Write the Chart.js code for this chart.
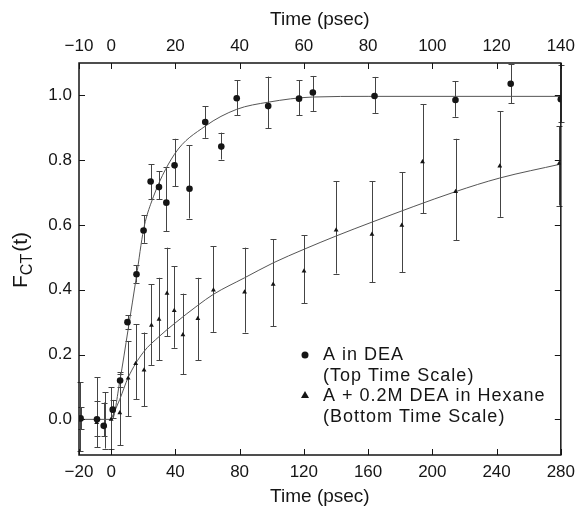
<!DOCTYPE html>
<html>
<head>
<meta charset="utf-8">
<script src="https://cdn.jsdelivr.net/npm/chart.js@4"></script>
<style>
  html, body { margin: 0; padding: 0; background: #fff; }
  #wrap { width: 582px; height: 508px; }
</style>
</head>
<body>
<div id="wrap"><canvas id="myChart" width="582" height="508"></canvas></div>
<script>
// tick labels
const topTicks = [-10, 0, 20, 40, 60, 80, 100, 120, 140];
const bottomTicks = [-20, 0, 40, 80, 120, 160, 200, 240, 280];
const yTicks = [0, 0.2, 0.4, 0.6, 0.8, 1.0];

// A in DEA (top time scale)
const deaTime  = [-9.5, -4.4, -2.3, 0.5, 2.8, 5.1, 7.9, 10.1, 12.3, 14.9, 17.2, 19.75, 24.4, 29.3, 34.3, 39.1, 48.9, 58.5, 62.8, 82, 107.2, 124.4, 140];
const deaValue = [0.003, 0.0, -0.02, 0.03, 0.12, 0.30, 0.448, 0.583, 0.734, 0.717, 0.669, 0.784, 0.712, 0.918, 0.842, 0.991, 0.967, 0.99, 1.009, 0.998, 0.986, 1.036, 0.988];
const deaLow   = [-0.031, -0.05, -0.052, 0.005, 0.10, 0.278, 0.422, 0.545, 0.679, 0.679, 0.58, 0.72, 0.62, 0.869, 0.802, 0.938, 0.898, 0.938, 0.952, 0.946, 0.934, 0.975, 0.918];
const deaHigh  = [0.037, 0.057, 0.052, 0.06, 0.14, 0.321, 0.476, 0.63, 0.787, 0.766, 0.778, 0.866, 0.846, 0.967, 0.885, 1.047, 1.058, 1.046, 1.06, 1.057, 1.044, 1.096, 1.094];

// A + 0.2M DEA in Hexane (bottom time scale)
const hexTime  = [-19.4, -9, -3.9, 0, 5.4, 10.6, 15.3, 20.5, 25.1, 29.8, 34.8, 39.3, 44.7, 54, 63.7, 83.1, 100.9, 120.1, 140.1, 162.4, 181, 193.9, 214.5, 242, 279];
const hexValue = [0.003, -0.01, -0.02, 0.0, 0.02, 0.127, 0.172, 0.152, 0.29, 0.309, 0.389, 0.336, 0.261, 0.311, 0.399, 0.393, 0.417, 0.458, 0.584, 0.571, 0.599, 0.795, 0.703, 0.782, 0.79];
const hexLow   = [-0.098, -0.086, -0.09, -0.093, -0.08, 0.01, 0.062, 0.04, 0.168, 0.183, 0.257, 0.221, 0.139, 0.183, 0.27, 0.268, 0.288, 0.358, 0.45, 0.424, 0.455, 0.636, 0.553, 0.625, 0.66];
const hexHigh  = [0.114, 0.13, 0.083, 0.099, 0.145, 0.242, 0.293, 0.268, 0.417, 0.437, 0.53, 0.473, 0.388, 0.437, 0.535, 0.53, 0.556, 0.568, 0.735, 0.735, 0.763, 0.972, 0.866, 0.951, 0.905];

// fitted curves
const deaFitTime  = [-10, 0.3, 2.7, 5.3, 7.9, 10.1, 12.3, 19.7, 29.3, 39.1, 48.9, 62.8, 80, 140];
const deaFitValue = [0, 0, 0.118, 0.278, 0.442, 0.586, 0.664, 0.818, 0.905, 0.957, 0.979, 0.995, 0.997, 0.997];
const hexFitTime  = [0, 5.4, 10.6, 19.9, 30.2, 39.5, 54, 63.7, 83.1, 100.9, 120.1, 140.1, 162.5, 214.5, 242, 280];
const hexFitValue = [0, 0.062, 0.129, 0.206, 0.257, 0.296, 0.352, 0.386, 0.437, 0.483, 0.525, 0.566, 0.609, 0.703, 0.745, 0.788];

const FONT = '"Liberation Sans", Arial, Helvetica, sans-serif';
const INK = '#151515';

const pts = (xs, ys) => xs.map((x, i) => ({ x: x, y: ys[i] }));
const minus = v => (v < 0 ? '\u2212' + (-v) : String(v));

// error bars, frame, inward ticks, y title and legend
const extras = {
  id: 'extras',
  beforeDatasetsDraw(chart) {
    const ctx = chart.ctx;
    const y = chart.scales.y;
    ctx.save();
    ctx.strokeStyle = '#444';
    ctx.lineWidth = 1;
    chart.data.datasets.forEach(ds => {
      if (!ds.errLow) return;
      const xs = chart.scales[ds.xAxisID];
      ds.data.forEach((p, i) => {
        const px = Math.round(xs.getPixelForValue(p.x)) + 0.5;
        const y1 = y.getPixelForValue(ds.errLow[i]);
        const y2 = y.getPixelForValue(ds.errHigh[i]);
        ctx.beginPath();
        ctx.moveTo(px, y1); ctx.lineTo(px, y2);
        ctx.moveTo(px - 3, Math.round(y1) + 0.5); ctx.lineTo(px + 3, Math.round(y1) + 0.5);
        ctx.moveTo(px - 3, Math.round(y2) + 0.5); ctx.lineTo(px + 3, Math.round(y2) + 0.5);
        ctx.stroke();
      });
    });
    ctx.restore();
  },
  afterDraw(chart) {
    const ctx = chart.ctx;
    const a = chart.chartArea;
    const sx = chart.scales.x, st = chart.scales.xTop, sy = chart.scales.y;
    ctx.save();
    ctx.strokeStyle = INK;
    ctx.lineWidth = 1.5;
    ctx.strokeRect(a.left, a.top, a.right - a.left, a.bottom - a.top);
    ctx.lineWidth = 1;
    ctx.beginPath();
    topTicks.forEach(v => {
      const px = Math.round(st.getPixelForValue(v)) + 0.5;
      ctx.moveTo(px, a.top); ctx.lineTo(px, a.top + 6);
    });
    bottomTicks.forEach(v => {
      const px = Math.round(sx.getPixelForValue(v)) + 0.5;
      ctx.moveTo(px, a.bottom); ctx.lineTo(px, a.bottom - 6);
    });
    yTicks.forEach(v => {
      const py = Math.round(sy.getPixelForValue(v)) + 0.5;
      ctx.moveTo(a.left, py); ctx.lineTo(a.left + 6, py);
      ctx.moveTo(a.right, py); ctx.lineTo(a.right - 6, py);
    });
    ctx.stroke();

    // y axis title F_CT(t)
    ctx.fillStyle = INK;
    ctx.translate(27, 260);
    ctx.rotate(-Math.PI / 2);
    ctx.textBaseline = 'alphabetic';
    ctx.textAlign = 'left';
    ctx.font = '21px ' + FONT;
    const wF = ctx.measureText('F').width;
    ctx.font = '16px ' + FONT;
    const wCT = ctx.measureText('CT').width;
    ctx.font = '21px ' + FONT;
    const wT = ctx.measureText('(t)').width;
    let x0 = -(wF + wCT + wT + 2) / 2;
    ctx.fillText('F', x0, 0);
    ctx.font = '16px ' + FONT;
    ctx.fillText('CT', x0 + wF, 5);
    ctx.font = '21px ' + FONT;
    ctx.fillText('(t)', x0 + wF + wCT + 2, 0);
    ctx.restore();

    // legend
    ctx.save();
    ctx.fillStyle = INK;
    ctx.font = '18px ' + FONT;
    ctx.letterSpacing = '1px';
    ctx.textBaseline = 'middle';
    const lx = 323;
    ctx.beginPath(); ctx.arc(305, 355, 3.5, 0, Math.PI * 2); ctx.fill();
    ctx.fillText('A in DEA', lx, 355);
    ctx.fillText('(Top Time Scale)', lx, 376);
    ctx.beginPath();
    ctx.moveTo(305, 391); ctx.lineTo(309, 398); ctx.lineTo(301, 398); ctx.closePath(); ctx.fill();
    ctx.fillText('A + 0.2M DEA in Hexane', lx, 396);
    ctx.fillText('(Bottom Time Scale)', lx, 417);
    ctx.restore();
  }
};

const tickFont = { family: FONT, size: 17 };
const titleFont = { family: FONT, size: 19 };

const ctx = document.getElementById('myChart').getContext('2d');
const myChart = new Chart(ctx, {
  type: 'scatter',
  data: {
    datasets: [
      {
        label: 'A in DEA',
        data: pts(deaTime, deaValue),
        errLow: deaLow, errHigh: deaHigh,
        xAxisID: 'xTop', yAxisID: 'y',
        pointStyle: 'circle', pointRadius: 3.3,
        backgroundColor: INK, borderColor: INK, borderWidth: 0
      },
      {
        label: 'A + 0.2M DEA in Hexane',
        data: pts(hexTime, hexValue),
        errLow: hexLow, errHigh: hexHigh,
        xAxisID: 'x', yAxisID: 'y',
        pointStyle: 'triangle', pointRadius: 2.8,
        backgroundColor: INK, borderColor: INK, borderWidth: 0
      },
      {
        label: 'fit DEA',
        data: pts(deaFitTime, deaFitValue),
        xAxisID: 'xTop', yAxisID: 'y',
        showLine: true, pointRadius: 0, borderWidth: 1,
        borderColor: '#555', cubicInterpolationMode: 'monotone'
      },
      {
        label: 'fit Hexane',
        data: pts(hexFitTime, hexFitValue),
        xAxisID: 'x', yAxisID: 'y',
        showLine: true, pointRadius: 0, borderWidth: 1,
        borderColor: '#555', cubicInterpolationMode: 'monotone'
      }
    ]
  },
  options: {
    responsive: false,
    animation: false,
    layout: { padding: { left: 0, right: 19, top: 0, bottom: 0 } },
    plugins: { legend: { display: false }, tooltip: { enabled: false } },
    scales: {
      x: {
        type: 'linear', position: 'bottom', min: -20, max: 280,
        afterBuildTicks: s => { s.ticks = bottomTicks.map(v => ({ value: v })); },
        afterFit: s => { s.height = 53; },
        grid: { display: false, drawTicks: false }, border: { display: false },
        ticks: { color: INK, font: tickFont, padding: 7, maxRotation: 0, autoSkip: false, callback: minus },
        title: { display: true, text: 'Time (psec)', color: INK, font: titleFont, padding: { top: 0, bottom: 0 } }
      },
      xTop: {
        type: 'linear', position: 'top', min: -10, max: 140,
        afterBuildTicks: s => { s.ticks = topTicks.map(v => ({ value: v })); },
        afterFit: s => { s.height = 63; },
        grid: { display: false, drawTicks: false }, border: { display: false },
        ticks: { color: INK, font: tickFont, padding: 6, maxRotation: 0, autoSkip: false, callback: minus },
        title: { display: true, text: 'Time (psec)', color: INK, font: titleFont, padding: { top: 8, bottom: 0 } }
      },
      y: {
        type: 'linear', position: 'left', min: -0.11, max: 1.1,
        afterBuildTicks: s => { s.ticks = yTicks.map(v => ({ value: v })); },
        afterFit: s => { s.width = 79; },
        grid: { display: false, drawTicks: false }, border: { display: false },
        ticks: { color: INK, font: tickFont, padding: 7, callback: v => v.toFixed(1) }
      }
    }
  },
  plugins: [extras]
});
</script>
</body>
</html>
